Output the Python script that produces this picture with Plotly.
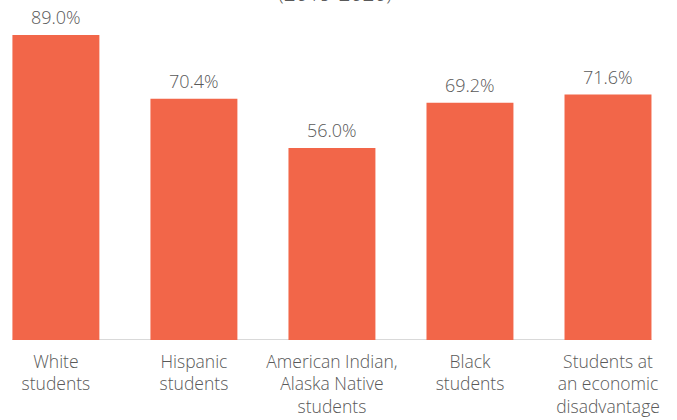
import plotly.graph_objects as go

categories = ["White<br>students", "Hispanic<br>students", "American Indian,<br>Alaska Native<br>students",
              "Black<br>students", "Students at<br>an economic<br>disadvantage"]
values = [89.0, 70.4, 56.0, 69.2, 71.6]
value_labels = ["89.0%", "70.4%", "56.0%", "69.2%", "71.6%"]
title_text = "(2019-2020)"

BAR_COLOR = "#F26649"
TEXT_COLOR = "#595959"
FONT = "Open Sans"
BAR_W = 0.63

xs = list(range(len(categories)))

fig = go.Figure()
fig.add_trace(go.Bar(x=xs, y=values, width=BAR_W, marker=dict(color=BAR_COLOR, line=dict(width=0)),
                     hoverinfo="skip"))

for x, v, t in zip(xs, values, value_labels):
    fig.add_annotation(x=x, y=v, text=t, showarrow=False, yanchor="bottom", yshift=4,
                       font=dict(family=FONT, size=18, color=TEXT_COLOR, weight=300))

fig.add_annotation(x=0.495, y=1, xref="paper", yref="paper", text=title_text, showarrow=False,
                   yanchor="bottom", yshift=-9,
                   font=dict(family=FONT, size=21, color=TEXT_COLOR, weight=300))

fig.add_shape(type="line", xref="x", yref="y", x0=xs[0] - BAR_W / 2, x1=xs[-1] + BAR_W / 2,
              y0=0, y1=0, line=dict(color="#D9D9D9", width=2), layer="below")

fig.update_layout(
    width=677, height=420,
    margin=dict(l=0, r=0, t=0, b=80, autoexpand=False),
    paper_bgcolor="white", plot_bgcolor="white",
    showlegend=False,
    xaxis=dict(range=[-0.405, 4.50], tickmode="array", tickvals=xs, ticktext=categories,
               showgrid=False, zeroline=False, showline=False, ticks="", automargin=False,
               ticklabelstandoff=9,
               tickfont=dict(family=FONT, size=17.5, color=TEXT_COLOR, weight=300)),
    yaxis=dict(range=[0, 99.2], visible=False, showgrid=False, zeroline=False, automargin=False),
)

fig.write_html("out.html", config={"displayModeBar": False},
               post_script="document.body.style.margin='0';")
